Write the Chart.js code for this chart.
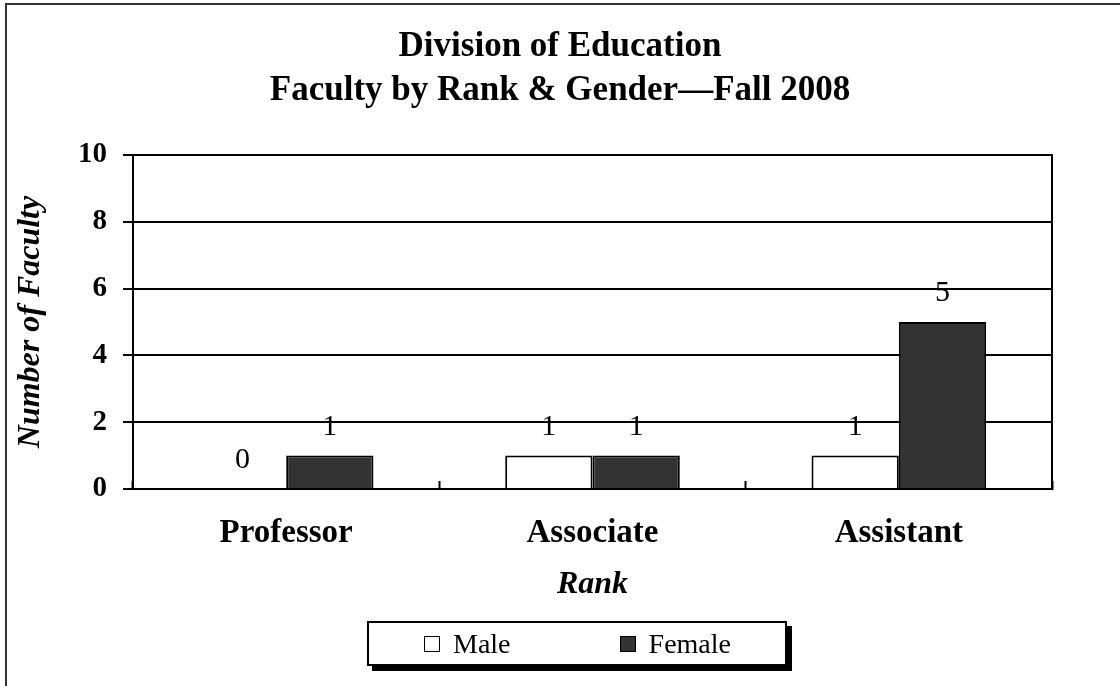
<!DOCTYPE html>
<html>
<head>
<meta charset="utf-8">
<script src="https://cdn.jsdelivr.net/npm/chart.js@4/dist/chart.umd.min.js"></script>
<style>
  html, body { margin: 0; padding: 0; background: #fff; }
  #wrap { position: relative; width: 1120px; height: 686px; overflow: hidden; }
  #frame { position: absolute; left: 5px; top: 3px; width: 1200px; height: 800px;
           border-left: 2px solid #333; border-top: 2px solid #333; }
  #chart { position: absolute; left: 0; top: 0; }
  #legend { position: absolute; left: 367px; top: 621px; width: 420px; height: 45px;
            box-sizing: border-box; border: 2px solid #000; background: #fff;
            box-shadow: 5px 5px 0 #000; display: flex; align-items: center;
            justify-content: space-between; padding: 0 54px 0 55px;
            font: 28px "Liberation Serif", serif; color: #000; }
  #legend .item { display: flex; align-items: center; }
  #legend .sw { width: 16px; height: 16px; box-sizing: border-box; border: 1.5px solid #000;
                margin-right: 13px; }
</style>
</head>
<body>
<div id="wrap">
  <div id="frame"></div>
  <canvas id="chart" width="1120" height="686"></canvas>
  <div id="legend"></div>
</div>
<script>
const categories = ['Professor', 'Associate', 'Assistant'];
const maleCounts = [0, 1, 1];
const femaleCounts = [1, 1, 5];
const seriesNames = ['Male', 'Female'];
const seriesColors = ['#ffffff', '#333333'];
const yTicks = [0, 2, 4, 6, 8, 10];

const serif = '"Liberation Serif", "Times New Roman", serif';

// value labels above each bar
const barLabels = {
  id: 'barLabels',
  afterDatasetsDraw(chart) {
    const ctx = chart.ctx;
    ctx.save();
    ctx.font = '30px ' + serif;
    ctx.fillStyle = '#000';
    ctx.textAlign = 'center';
    ctx.textBaseline = 'alphabetic';
    chart.data.datasets.forEach((ds, i) => {
      chart.getDatasetMeta(i).data.forEach((bar, j) => {
        ctx.fillText(String(ds.data[j]), bar.x, bar.y - 21);
      });
    });
    ctx.restore();
  }
};

const chart = new Chart(document.getElementById('chart'), {
  type: 'bar',
  data: {
    labels: categories,
    datasets: [
      {
        label: seriesNames[0],
        data: maleCounts,
        backgroundColor: seriesColors[0],
        borderColor: '#000',
        borderWidth: 2,
      },
      {
        label: seriesNames[1],
        data: femaleCounts,
        backgroundColor: seriesColors[1],
        borderColor: '#000',
        borderWidth: 2,
      },
    ],
  },
  options: {
    responsive: false,
    animation: false,
    layout: { padding: { left: 0, right: 0, top: 0, bottom: 81 } },
    datasets: {
      bar: { categoryPercentage: 0.57, barPercentage: 1.0 },
    },
    plugins: {
      legend: { display: false },
      tooltip: { enabled: false },
      title: {
        display: true,
        text: ['Division of Education', 'Faculty by Rank & Gender\u2014Fall 2008'],
        color: '#000',
        font: { family: serif, size: 35, weight: 'bold', lineHeight: '44px' },
        padding: { top: 25, bottom: 42 },
      },
    },
    scales: {
      x: {
        grid: {
          display: true,
          drawOnChartArea: false,
          tickLength: -8,
          tickColor: '#000',
          tickWidth: 2,
          offset: true,
        },
        border: { display: true, color: '#000', width: 2 },
        ticks: {
          color: '#000',
          padding: 33,
          font: { family: serif, size: 33, weight: 'bold' },
          maxRotation: 0,
        },
        title: {
          display: true,
          text: 'Rank',
          color: '#000',
          font: { family: serif, size: 32, weight: 'bold', style: 'italic' },
          padding: { top: 0, bottom: 1 },
        },
        afterFit(scale) { scale.height = 116; },
      },
      y: {
        min: 0,
        max: 10,
        afterBuildTicks(scale) { scale.ticks = yTicks.map(v => ({ value: v })); },
        grid: {
          color: '#000',
          lineWidth: 2,
          tickLength: 10,
          tickColor: '#000',
        },
        border: { display: true, color: '#000', width: 2 },
        ticks: {
          color: '#000',
          padding: 16,
          font: { family: serif, size: 29, weight: 'bold' },
        },
        title: {
          display: true,
          text: 'Number of Faculty',
          color: '#000',
          font: { family: serif, size: 32, weight: 'bold', style: 'italic' },
          padding: { top: 12, bottom: 0 },
        },
        afterFit(scale) { scale.width = 133; },
      },
      // empty right axis: closes the plot box and keeps the title centred
      yRight: {
        position: 'right',
        min: 0,
        max: 10,
        grid: { display: false },
        border: { display: true, color: '#000', width: 2 },
        ticks: { display: false },
        afterFit(scale) { scale.width = 68; },
      },
    },
  },
  plugins: [barLabels],
});

// legend box under the plot
const legend = document.getElementById('legend');
chart.data.datasets.forEach(ds => {
  const item = document.createElement('div');
  item.className = 'item';
  const sw = document.createElement('span');
  sw.className = 'sw';
  sw.style.background = ds.backgroundColor;
  item.appendChild(sw);
  item.appendChild(document.createTextNode(ds.label));
  legend.appendChild(item);
});
</script>
</body>
</html>
